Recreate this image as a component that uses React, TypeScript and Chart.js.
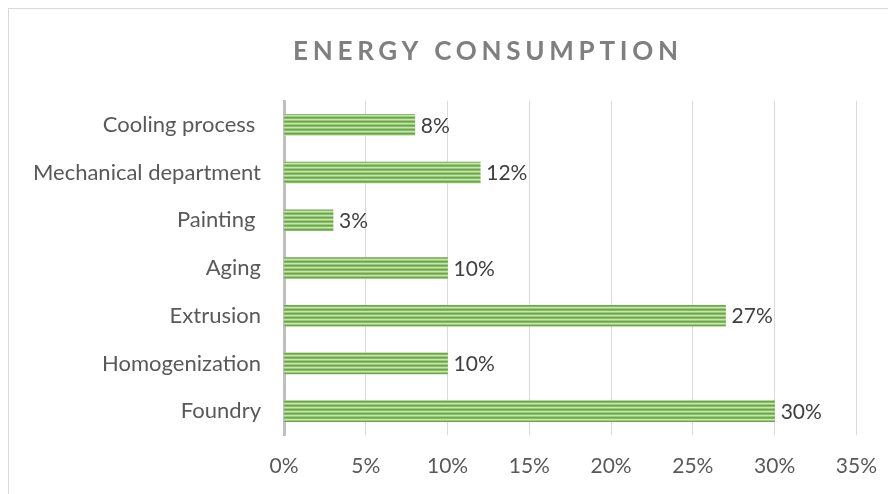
import React, { useEffect, useRef } from "react";
import { Chart, registerables } from "chart.js";

Chart.register(...registerables);

const categories = [
  "Cooling process ",
  "Mechanical department",
  "Painting ",
  "Aging",
  "Extrusion",
  "Homogenization",
  "Foundry",
];
const values = [8, 12, 3, 10, 27, 10, 30];
const titleText = "ENERGY CONSUMPTION";
const FONT = "Lato, 'Open Sans', sans-serif";

function makePattern(): CanvasPattern | string {
  const c = document.createElement("canvas");
  c.width = 4;
  c.height = 4;
  const ctx = c.getContext("2d");
  if (!ctx) return "#70ad47";
  const rows = ["#6aa843", "#86bd62", "#c9e2b8", "#9ccb7e"];
  rows.forEach((col, i) => {
    ctx.fillStyle = col;
    ctx.fillRect(0, i, 4, 1);
  });
  return ctx.createPattern(c, "repeat") || "#70ad47";
}

const titlePlugin = {
  id: "spacedTitle",
  afterDraw(chart: any) {
    const ctx = chart.ctx as CanvasRenderingContext2D;
    ctx.save();
    ctx.font = `bold 26px ${FONT}`;
    ctx.fillStyle = "#7f7f7f";
    ctx.textBaseline = "middle";
    const targetWidth = 385;
    (ctx as any).letterSpacing = "0px";
    const w0 = ctx.measureText(titleText).width;
    const ls = Math.max(0, (targetWidth - w0) / (titleText.length - 1));
    (ctx as any).letterSpacing = ls + "px";
    ctx.textAlign = "left";
    const cx = 476.5;
    ctx.fillText(titleText, cx - targetWidth / 2, 43);
    ctx.restore();
  },
};

const dataLabelPlugin = {
  id: "barValues",
  afterDatasetsDraw(chart: any) {
    const ctx = chart.ctx as CanvasRenderingContext2D;
    const meta = chart.getDatasetMeta(0);
    ctx.save();
    ctx.font = `21px ${FONT}`;
    ctx.fillStyle = "#404040";
    ctx.textAlign = "left";
    ctx.textBaseline = "middle";
    meta.data.forEach((bar: any, i: number) => {
      ctx.fillText(values[i] + "%", bar.x + 6, bar.y + 1);
    });
    ctx.restore();
  },
};

export default function App() {
  const ref = useRef<HTMLCanvasElement>(null);
  useEffect(() => {
    document.body.style.overflow = "hidden";
    if (!ref.current) return;
    const chart = new Chart(ref.current, {
      type: "bar",
      data: {
        labels: categories,
        datasets: [
          {
            data: values,
            backgroundColor: makePattern() as any,
            borderWidth: 0,
            barThickness: 21,
          },
        ],
      },
      options: {
        indexAxis: "y",
        animation: false,
        responsive: false,
        maintainAspectRatio: false,
        layout: { padding: { top: 92, right: 38, left: 0, bottom: 0 } },
        plugins: {
          legend: { display: false },
          title: { display: false },
          tooltip: { enabled: false },
        },
        scales: {
          x: {
            min: 0,
            max: 35,
            ticks: {
              stepSize: 5,
              padding: 19,
              color: "#595959",
              font: { family: FONT, size: 21 },
              callback: (v: any) => v + "%",
            },
            grid: {
              drawTicks: false,
              color: (c: any) => (c.index === 0 ? "rgba(0,0,0,0)" : "#d9d9d9"),
              lineWidth: 1,
            },
            border: { display: false },
            afterFit: (s: any) => {
              s.height = 59;
            },
          },
          y: {
            ticks: {
              padding: 23,
              color: "#595959",
              font: { family: FONT, size: 22 },
            },
            grid: { display: false, drawTicks: false },
            border: { display: true, color: "#bfbfbf", width: 3 },
            afterFit: (s: any) => {
              s.width = 275;
            },
          },
        },
      },
      plugins: [titlePlugin, dataLabelPlugin],
    });
    return () => chart.destroy();
  }, []);
  return (
    <div
      style={{
        width: 900,
        height: 500,
        border: "1px solid #d9d9d9",
        boxSizing: "border-box",
        background: "#fff",
        position: "relative",
      }}
    >
      <canvas ref={ref} width={887} height={485} style={{ display: "block" }} />
    </div>
  );
}
